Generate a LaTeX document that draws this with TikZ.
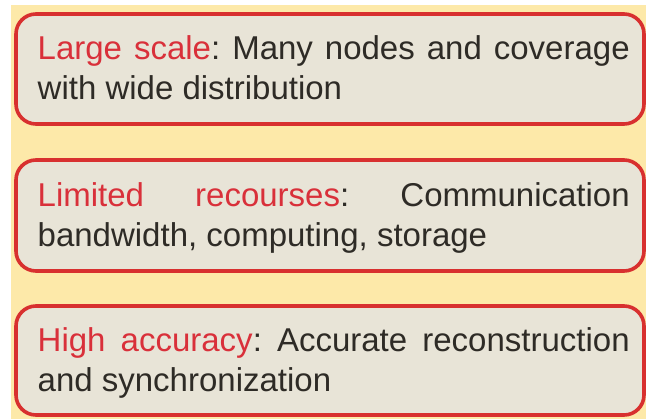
\documentclass[tikz,border=0pt]{standalone}
\usepackage{fontspec}
\setmainfont{Liberation Sans}
\definecolor{paper}{HTML}{FDE9A9}
\definecolor{cardfill}{HTML}{E8E4D7}
\definecolor{cardedge}{HTML}{D8302F}
\definecolor{keyred}{HTML}{D9303A}
\definecolor{inktext}{HTML}{2E2B26}
\hbadness=10000
\frenchspacing
\begin{document}
\begin{tikzpicture}[x=1pt,y=-1pt,
  card/.style={draw=cardedge,fill=cardfill,line width=3.6pt,rounded corners=20pt},
  cardtext/.style={anchor=base west,inner sep=0pt,text width=592pt,align=justify,
    text=inktext,font=\fontsize{33}{40}\selectfont}]
  \useasboundingbox (0,0) rectangle (646,419);
  \fill[white] (0,0) rectangle (646,419);
  \fill[paper] (11,5) rectangle (646,419);

  \draw[card] (16,14) rectangle (644,124);
  \draw[card] (16,160) rectangle (644,271);
  \draw[card] (16,306) rectangle (644,415);

  \node[cardtext] (t1) at (37.5,60)
    {\textcolor{keyred}{Large scale}: Many nodes and coverage\linebreak with wide distribution};
  \node[cardtext] (t2) at (37.5,207)
    {\textcolor{keyred}{Limited recourses}: Communication\linebreak bandwidth, computing, storage};
  \node[cardtext] (t3) at (37.5,352)
    {\textcolor{keyred}{High accuracy}: Accurate reconstruction\linebreak and synchronization};
\end{tikzpicture}
\end{document}
